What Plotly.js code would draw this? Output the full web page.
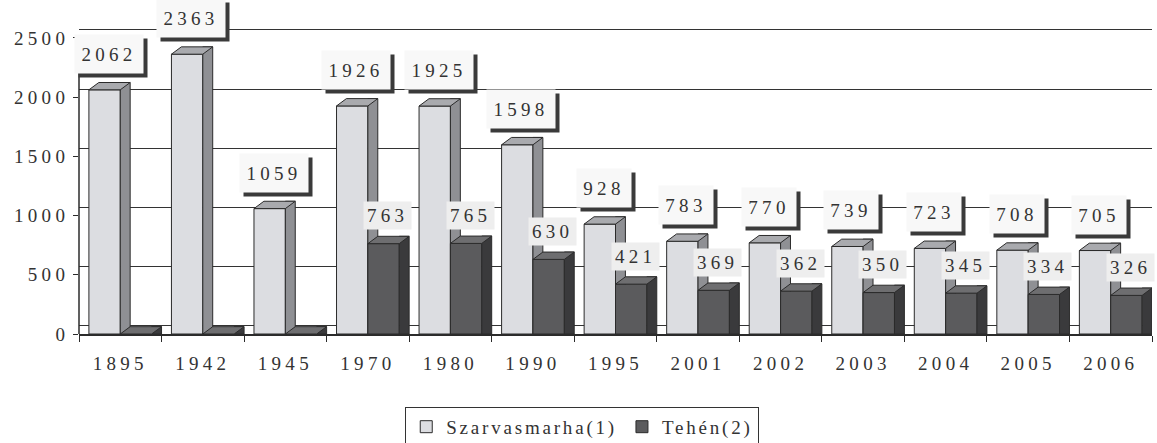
<!DOCTYPE html>
<html>
<head>
<meta charset="utf-8">
<script src="https://cdn.plot.ly/plotly-3.0.1.min.js"></script>
<style>
  html, body { margin: 0; padding: 0; background: #ffffff; }
  #chart { width: 1157px; height: 443px; }
  text { letter-spacing: 4.3px; }
  text.legendtext { letter-spacing: 2.8px; }
</style>
</head>
<body>
<div id="chart"></div>
<script>
// ---- data ----
const years = ['1895','1942','1945','1970','1980','1990','1995','2001','2002','2003','2004','2005','2006'];
const szarvasmarha = [2062, 2363, 1059, 1926, 1925, 1598, 928, 783, 770, 739, 723, 708, 705];
const tehen = [0, 0, 0, 763, 765, 630, 421, 369, 362, 350, 345, 334, 326];
const yTicks = [0, 500, 1000, 1500, 2000, 2500];
const seriesNames = ['Szarvasmarha(1)', 'Tehén(2)'];

// ---- style constants ----
const FW = 0.38;   // front face width (category units)
const DX = 0.12;   // 3D depth horizontal (category units)
const DY = 62;     // 3D depth vertical (value units)
const WALL = 68;   // back-wall shift (value units)
const YMAX = 2618;
const EDGE = '#2b2b2b';
const FONT = 'Liberation Serif, Times New Roman, serif';
const FS = 19;
const idx = years.map((_, i) => i);

function makeSeries(vals, off, cols, name) {
  const front = {
    type: 'bar', x: idx, y: vals, offset: off, width: FW, name: name,
    marker: { color: cols.front, line: { color: EDGE, width: 1 } },
    hoverinfo: 'y+name', showlegend: true
  };
  const side = {
    type: 'bar', x: idx, y: vals.map(v => v + DY), offset: off + FW, width: DX,
    marker: { color: cols.side, line: { color: EDGE, width: 1 } },
    hoverinfo: 'skip', showlegend: false
  };
  const tx = [], ty = [];
  vals.forEach((v, i) => {
    const xl = i + off, xr = xl + FW;
    tx.push(xl, xl + DX, xr + DX, xr, xl, null);
    ty.push(v, v + DY, v + DY, v, v, null);
  });
  const top = {
    type: 'scatter', mode: 'lines', x: tx, y: ty, fill: 'toself',
    fillcolor: cols.top, line: { color: EDGE, width: 1 },
    hoverinfo: 'skip', showlegend: false
  };
  return { bars: [front, side], top: top };
}

const light = makeSeries(szarvasmarha, -FW, { front: '#dcdde1', side: '#8f9094', top: '#a9aaae' }, seriesNames[0]);
const dark = makeSeries(tehen, 0, { front: '#5b5b5d', side: '#3a3a3c', top: '#6e6e70' }, seriesNames[1]);

const data = [...light.bars, ...dark.bars, light.top, dark.top];

// ---- labels ----
const labelFont = { family: FONT, size: FS, color: '#333333' };
const annotations = [];
szarvasmarha.forEach((v, i) => {
  const x = i - FW + FW / 2;
  const w = String(v).length * 14 + 4, h = 30;
  annotations.push({
    x: x, y: v, xref: 'x', yref: 'y', text: ' ', showarrow: false,
    width: w, height: h, xshift: 8, yshift: 32, bgcolor: '#3a3a3a', borderpad: 4
  });
  annotations.push({
    x: x, y: v, xref: 'x', yref: 'y', text: String(v), showarrow: false,
    width: w, height: h, xshift: 4, yshift: 36, bgcolor: '#f8f8f8', borderpad: 4, font: labelFont
  });
});
tehen.forEach((v, i) => {
  if (!v) return;
  annotations.push({
    x: i + FW / 2, y: v, xref: 'x', yref: 'y', text: String(v), showarrow: false,
    xshift: 4, yshift: 28, bgcolor: '#eeeeee', borderpad: 3, font: labelFont
  });
});

const shapes = [{
  type: 'line', xref: 'paper', yref: 'y', x0: 0, x1: 0, y0: 0, y1: yTicks[yTicks.length - 1],
  line: { color: EDGE, width: 1.5 }
}];

const layout = {
  width: 1157, height: 443,
  margin: { l: 79, r: 5, t: 24, b: 109, autoexpand: false },
  paper_bgcolor: '#ffffff', plot_bgcolor: '#ffffff',
  barmode: 'overlay',
  font: { family: FONT, size: FS, color: '#333333' },
  xaxis: {
    range: [-0.5, years.length - 0.5], type: 'linear',
    tickmode: 'array', tickvals: idx, ticktext: years, ticks: '',
    ticklabelstandoff: 12,
    minor: { tickmode: 'array', tickvals: idx.map(i => i - 0.5).concat([years.length - 0.5]), ticks: 'outside', ticklen: 6, tickcolor: EDGE, tickwidth: 1 },
    showline: true, linecolor: EDGE, linewidth: 1.5, showgrid: false, zeroline: false,
    tickfont: { family: FONT, size: FS, color: '#333333' }, fixedrange: true
  },
  yaxis: {
    range: [0, YMAX], tickmode: 'array', tickvals: yTicks, ticktext: yTicks.map(String),
    ticks: 'outside', ticklen: 5, tickcolor: EDGE, showline: false, showgrid: false, zeroline: false,
    tickfont: { family: FONT, size: FS, color: '#333333' }, fixedrange: true
  },
  yaxis2: {
    overlaying: 'y', side: 'right', range: [-WALL, YMAX - WALL],
    tickmode: 'array', tickvals: yTicks, showticklabels: false, ticks: '',
    showgrid: true, gridcolor: '#333333', gridwidth: 1, zeroline: false, showline: false, fixedrange: true
  },
  legend: {
    orientation: 'h', x: 0.469, xanchor: 'center', y: -0.235, yanchor: 'top',
    bordercolor: '#333333', borderwidth: 1, bgcolor: '#ffffff',
    font: { family: FONT, size: FS, color: '#333333' }, itemwidth: 30
  },
  annotations: annotations,
  shapes: shapes,
  showlegend: true
};

// dummy trace to activate yaxis2 gridlines
data.unshift({ type: 'scatter', x: [null], y: [null], yaxis: 'y2', showlegend: false, hoverinfo: 'skip' });

Plotly.newPlot('chart', data, layout, { displayModeBar: false, staticPlot: true });
</script>
</body>
</html>
